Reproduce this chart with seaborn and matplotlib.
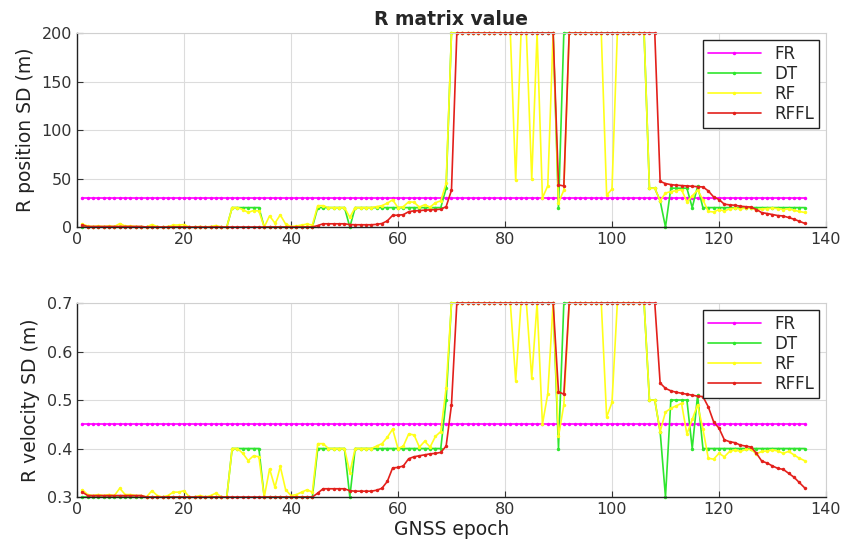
import numpy as np
import matplotlib
matplotlib.use("Agg")
import matplotlib.pyplot as plt
import seaborn as sns

sns.set_theme(style="whitegrid")
plt.rcParams['font.family'] = ['DejaVu Sans']

# GNSS epochs 1..136
epoch = np.arange(1, 137)
names = ["FR", "DT", "RF", "RFFL"]
colors = ["#ff00ff", "#2ee62e", "#ffff1a", "#e3201b"]

# R position SD (m)
pos_fr = [30] * 136
pos_dt = ([0] * 28 + [20] * 6 + [0] * 10 + [20] * 6 + [0] + [20] * 17 + [40]
          + [200] * 20 + [20] + [200] * 16
          + [40, 40, 27, 0, 40, 40, 40, 40, 20, 42] + [20] * 20)
pos_rf = ([3, 1, 0.5, 1, 0.5, 1, 0.5, 3.5, 1, 1, 0.5, 0.5, 0, 2.5, 0.5, 0, 0.5, 2, 2, 2.5,
           0, 0, 0.5, 0, 0.5, 1.5, 0, 0]
          + [20, 20, 18, 15, 17, 16.5, 0, 11.5, 4, 12.5, 3, 0.5, 1, 2, 3, 2]
          + [22, 22, 20, 20, 20, 20, 10, 20, 20, 20, 20, 21, 22, 24.5, 28, 20, 21, 26, 25.5,
             20.5, 23, 20.5, 25, 27, 45]
          + [200] * 12 + [48] + [200] * 2 + [49, 200, 30, 42.5, 200, 25, 38] + [200] * 7
          + [33, 39] + [200] * 6
          + [40, 40, 27, 35, 36.5, 37.5, 38.5, 26, 32, 38, 28, 16, 15.5, 18, 16.5, 18.7, 19.4,
             18.7, 19.6, 19.6, 17.7, 18.7, 19, 19.4, 19, 18, 18.7, 17.3, 16, 15])
pos_rffl = ([2] + [0.5] * 11 + [0] * 32 + [1.5] + [3.3] * 5 + [2.5] + [2.3] * 4
            + [2.7, 3.6, 6.3, 12, 12.2, 12.7, 15.8, 16.6, 17, 17.4, 17.7, 18, 18.3, 21, 38]
            + [200] * 19 + [43.4, 42.3] + [200] * 17
            + [47, 44.8, 43.7, 43.1, 42.7, 42.3, 41.9, 41.6, 41.3, 37.2, 31, 28.3, 23.5, 22.8,
               22.4, 21.4, 21, 20.5, 18, 14.8, 13.9, 12.8, 11.8, 11.4, 9.8, 8.1, 5.9, 3.8])

# R velocity SD (m)
vel_fr = [0.45] * 136
vel_dt = ([0.3] * 28 + [0.4] * 6 + [0.3] * 10 + [0.4] * 6 + [0.3] + [0.4] * 17 + [0.5]
          + [0.7] * 20 + [0.4] + [0.7] * 16
          + [0.5, 0.5, 0.435, 0.3, 0.5, 0.5, 0.5, 0.5, 0.4, 0.51] + [0.4] * 20)
vel_rf = ([0.315, 0.305, 0.303, 0.305, 0.303, 0.305, 0.303, 0.318, 0.305, 0.305, 0.303, 0.303,
           0.3, 0.313, 0.303, 0.3, 0.303, 0.31, 0.31, 0.313, 0.3, 0.3, 0.303, 0.3, 0.303,
           0.308, 0.3, 0.3]
          + [0.4, 0.4, 0.39, 0.375, 0.385, 0.383, 0.3, 0.358, 0.32, 0.363, 0.315, 0.303, 0.305,
             0.31, 0.315, 0.31]
          + [0.41, 0.41, 0.4, 0.4, 0.4, 0.4, 0.35, 0.4, 0.4, 0.4, 0.4, 0.405, 0.41, 0.423, 0.44,
             0.4, 0.405, 0.43, 0.428, 0.403, 0.415, 0.403, 0.425, 0.435, 0.525]
          + [0.7] * 12 + [0.54] + [0.7] * 2 + [0.545, 0.7, 0.45, 0.513, 0.7, 0.425, 0.49]
          + [0.7] * 7 + [0.465, 0.495] + [0.7] * 6
          + [0.5, 0.5, 0.435, 0.475, 0.483, 0.488, 0.493, 0.43, 0.46, 0.49, 0.44, 0.38, 0.378,
             0.39, 0.383, 0.394, 0.397, 0.394, 0.398, 0.398, 0.389, 0.394, 0.395, 0.397, 0.395,
             0.39, 0.394, 0.387, 0.38, 0.375])
vel_rffl = ([0.31] + [0.303] * 11 + [0.3] * 32 + [0.308] + [0.317] * 5 + [0.313] + [0.312] * 4
            + [0.314, 0.318, 0.332, 0.36, 0.361, 0.364, 0.379, 0.383, 0.385, 0.387, 0.389, 0.39,
               0.392, 0.405, 0.49]
            + [0.7] * 19 + [0.517, 0.512] + [0.7] * 17
            + [0.535, 0.524, 0.519, 0.516, 0.514, 0.512, 0.51, 0.508, 0.507, 0.486, 0.455, 0.442,
               0.418, 0.414, 0.412, 0.407, 0.405, 0.403, 0.39, 0.374, 0.37, 0.364, 0.359, 0.357,
               0.349, 0.341, 0.33, 0.319])

fig = plt.figure(figsize=(8.45, 5.55), dpi=100)
ax1 = fig.add_axes([0.0911, 0.591, 0.8864, 0.3495])
ax2 = fig.add_axes([0.0911, 0.1045, 0.8864, 0.3495])


def draw(ax, series, ylim, yticks, ylabel):
    for name, col, vals in zip(names, colors, series):
        sns.lineplot(x=epoch, y=vals, ax=ax, color=col, marker='.', markersize=5,
                     markeredgewidth=0, linewidth=1.2, label=name, clip_on=False)
    ax.set_xlim(0, 140)
    ax.set_ylim(*ylim)
    ax.set_xticks(range(0, 141, 20))
    ax.set_yticks(yticks)
    ax.set_ylabel(ylabel, fontsize=13.5, color='#222222', labelpad=5)
    ax.grid(True, color='#dcdcdc', linewidth=0.8)
    ax.set_facecolor('white')
    ax.tick_params(direction='in', length=4, width=0.8, bottom=True, left=True,
                   labelsize=11.5, colors='#333333')
    for s in ['left', 'bottom']:
        ax.spines[s].set_color('#222222')
        ax.spines[s].set_linewidth(1.0)
    for s in ['top', 'right']:
        ax.spines[s].set_color('#d0d0d0')
        ax.spines[s].set_linewidth(0.8)
    leg = ax.legend(loc='upper right', fontsize=12, fancybox=False, framealpha=1,
                    edgecolor='#222222', handlelength=3.2, borderaxespad=0.4,
                    labelspacing=0.12, borderpad=0.3)
    leg.get_frame().set_linewidth(1.0)


draw(ax1, [pos_fr, pos_dt, pos_rf, pos_rffl], (0, 200), [0, 50, 100, 150, 200],
     "R position SD (m)")
draw(ax2, [vel_fr, vel_dt, vel_rf, vel_rffl], (0.3, 0.7), [0.3, 0.4, 0.5, 0.6, 0.7],
     "R velocity SD (m)")
ax1.set_xlabel("")
ax1.set_title("R matrix value", fontsize=13.5, fontweight='bold', pad=6)
ax2.set_xlabel("GNSS epoch", fontsize=13.5, color='#222222', labelpad=2)

fig.savefig("out.png", dpi=100, facecolor='white')
